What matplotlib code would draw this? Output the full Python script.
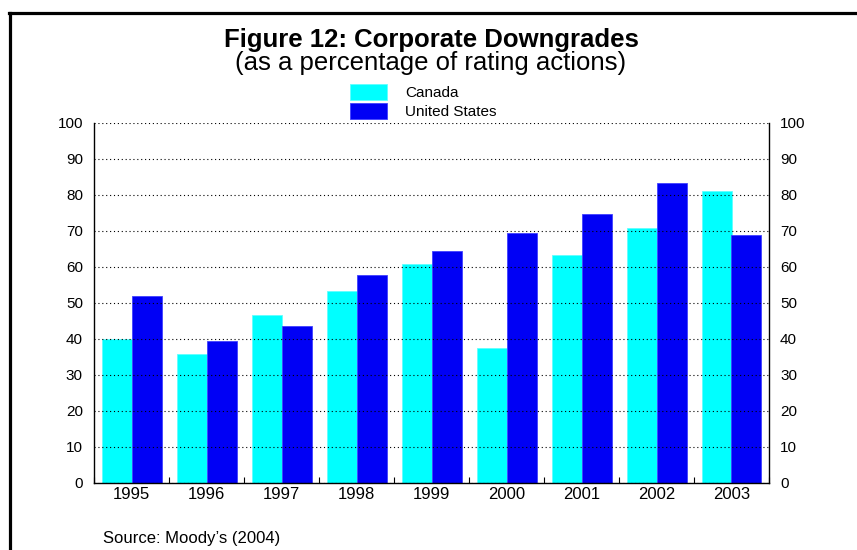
import numpy as np
import matplotlib.pyplot as plt
from matplotlib.lines import Line2D

plt.rcParams['font.family'] = ['Liberation Sans', 'DejaVu Sans']

years = ['1995', '1996', '1997', '1998', '1999', '2000', '2001', '2002', '2003']
canada = [40.0, 35.7, 46.8, 53.3, 60.7, 37.6, 63.4, 70.8, 81.0]
united_states = [52.0, 39.5, 43.5, 57.8, 64.5, 69.4, 74.6, 83.3, 69.0]
yticks = list(range(0, 101, 10))

W, H = 857, 550
fig = plt.figure(figsize=(W/100, H/100), dpi=100)
ax = fig.add_axes([94/W, 1-483/H, 675/W, 360/H])

x = np.arange(len(years))
w = 0.4
ax.bar(x - w/2, canada, w, color='#00FFFF', edgecolor='#60FFFF', linewidth=0.6, label='Canada', zorder=2)
ax.bar(x + w/2, united_states, w, color='#0000F5', edgecolor='#4040FF', linewidth=0.6, label='United States', zorder=2)

ax.set_xlim(-0.5, len(years) - 0.5)
ax.set_ylim(0, 100)
ax.set_yticks(yticks)
ax.yaxis.grid(True, linestyle=(0, (1, 2.5)), color='black', linewidth=0.8, zorder=3)
ax.set_axisbelow(False)

# category labels centred, tick marks at boundaries
ax.set_xticks(x)
ax.set_xticklabels(years, fontsize=12)
ax.tick_params(axis='x', length=0, pad=3)
ax.set_xticks(np.arange(-0.5, len(years)), minor=True)
ax.tick_params(axis='x', which='minor', direction='in', length=4, width=0.8)

ax.tick_params(axis='y', labelsize=11, length=0, pad=8, labelright=True, right=False)
ax.spines['top'].set_visible(False)
for s in ['left', 'right', 'bottom']:
    ax.spines[s].set_linewidth(1.0)

fig.text(431/W, 1-40/H, 'Figure 12: Corporate Downgrades', ha='center', va='center',
         fontsize=18.5, fontweight='bold')
fig.text(431/W, 1-63/H, '(as a percentage of rating actions)', ha='center', va='center',
         fontsize=18.5)

ax.legend(loc='upper left', bbox_to_anchor=(350/W, 1-84/H), bbox_transform=fig.transFigure,
          frameon=False, fontsize=11, handlelength=2.4, handleheight=1.2,
          labelspacing=0.2, handletextpad=1.2, borderpad=0, borderaxespad=0)

fig.text(103/W, 1-538/H, 'Source: Moody\u2019s (2004)', ha='left', va='center', fontsize=12)

# page frame: left and top edges only
fig.add_artist(Line2D([10/W, 10/W], [0, 1-12.5/H], transform=fig.transFigure, color='black', linewidth=2.3))
fig.add_artist(Line2D([8.9/W, 1], [1-12.5/H, 1-12.5/H], transform=fig.transFigure, color='black', linewidth=2.3))

fig.savefig('out.png', dpi=100)
